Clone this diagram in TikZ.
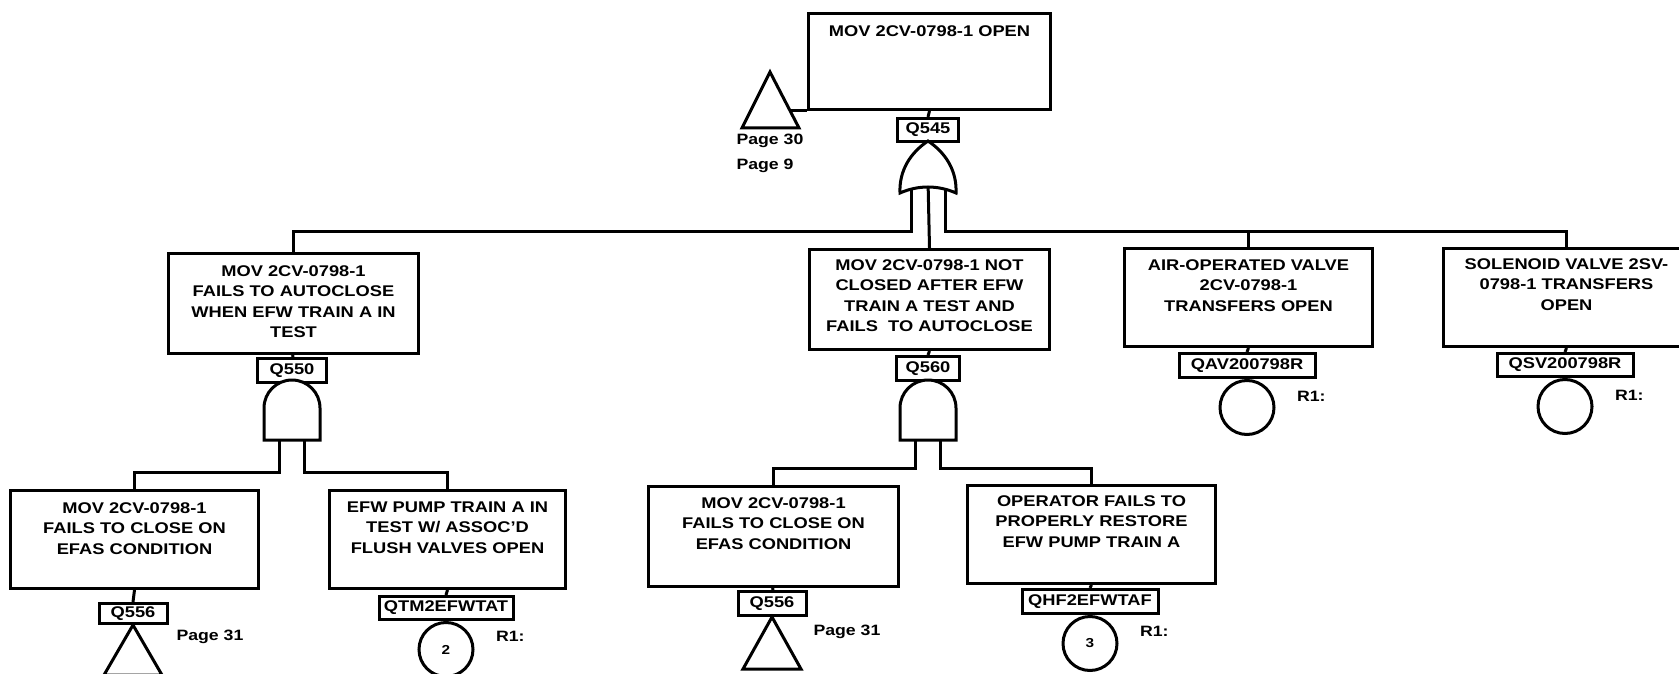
\documentclass[tikz,border=0pt]{standalone}
\usepackage{fontspec}
\setmainfont{Liberation Sans}[FakeStretch=1.18]
\begin{document}
\begin{tikzpicture}[x=1pt,y=-1pt,line width=3pt,
  box/.style={draw,rectangle,line width=3pt,inner sep=0pt,anchor=north west},
  txt/.style={font=\bfseries\fontsize{15.5}{20.5}\selectfont,align=center,inner sep=0pt,anchor=north},
  lbl/.style={draw,rectangle,line width=3pt,fill=white,font=\bfseries\fontsize{15.5}{18}\selectfont,inner sep=0pt,anchor=north},
  evt/.style={draw,circle,line width=3pt,fill=white,minimum size=54pt,inner sep=0pt,anchor=north,font=\bfseries\fontsize{13}{15}\selectfont},
  pg/.style={font=\bfseries\fontsize{15}{25}\selectfont,inner sep=0pt,align=left},
  wire/.style={line width=3pt},
  andgate/.pic={\draw[line width=3pt,fill=white] (-28,0) -- (-28,-32) .. controls (-28,-47.5) and (-15.5,-60) .. (0,-60) .. controls (15.5,-60) and (28,-47.5) .. (28,-32) -- (28,0) -- cycle;},
  orgate/.pic={\draw[line width=3pt,fill=white] (-28,0) .. controls (-10,-8) and (10,-8) .. (28,0) .. controls (29,-22) and (18,-40) .. (0,-52) .. controls (-18,-40) and (-29,-22) .. (-28,0) -- cycle;},
]
\fill[white] (0,0) rectangle (1679,674);
\useasboundingbox (0,0) rectangle (1679,674);

% ---------- top event ----------
\node[box,minimum width=242pt,minimum height=96pt] (T) at (807,12) {};
\node[txt] (Tt) at ([yshift=-12pt]T.north) {MOV 2CV-0798-1 OPEN};
\node[lbl,minimum width=61pt,minimum height=23pt] (q545) at (928,117) {Q545};
\draw[wire] (T.south) -- (q545.north);
% transfer triangle top
\coordinate (ttA) at (770,72);
\coordinate (ttB) at (742,128);
\coordinate (ttC) at (799,128);
\coordinate (ttL) at (790,110);
\draw[wire] (ttA) -- (ttB) -- (ttC) -- cycle;
\draw[wire] (T.south west) -- (T.south west -| ttL);
\node[pg,anchor=north west] (p30) at (735,133) {Page 30\\Page 9};

% ---------- second level boxes ----------
\node[box,minimum width=250pt,minimum height=100pt] (L1) at (167,252) {};
\node[txt] (L1t) at ([yshift=-12pt]L1.north) {MOV 2CV-0798-1\\FAILS TO AUTOCLOSE\\WHEN EFW TRAIN A IN\\TEST};
\node[box,minimum width=240pt,minimum height=100pt] (M1) at (808,248) {};
\node[txt] (M1t) at ([yshift=-10pt]M1.north) {MOV 2CV-0798-1 NOT\\CLOSED AFTER EFW\\TRAIN A TEST AND\\FAILS\ \ TO AUTOCLOSE};
\node[box,minimum width=248pt,minimum height=98pt] (A) at (1123,247) {};
\node[txt] (At) at ([yshift=-11pt]A.north) {AIR-OPERATED VALVE\\2CV-0798-1\\TRANSFERS OPEN};
\node[box,minimum width=246pt,minimum height=98pt] (S) at (1442,247) {};
\node[txt] (St) at ([yshift=-10pt]S.north) {SOLENOID VALVE 2SV-\\0798-1 TRANSFERS\\OPEN};

% OR gate legs
\coordinate (orL) at (911,180);
\coordinate (orM) at (928,180);
\coordinate (orR) at (945,180);
\coordinate (busL) at (911,231);
\coordinate (busR) at (945,231);
\draw[wire] (orL) -- (busL) -| (L1.north);
\draw[wire] (orM) -- (M1.north);
\draw[wire] (orR) -- (busR) -| (S.north);
\draw[wire] (A.north) -- (A.north |- busR);
\pic (g545) at (928,193) {orgate};

% ---------- left branch ----------
\node[lbl,minimum width=69pt,minimum height=24pt] (q550) at (292,357) {Q550};
\draw[wire] (L1.south) -- (q550.north);
\coordinate (a550l) at (279.5,440);
\coordinate (a550r) at (304.5,440);
\node[box,minimum width=248pt,minimum height=98pt] (BL1) at (9,489) {};
\node[txt] (BL1t) at ([yshift=-12pt]BL1.north) {MOV 2CV-0798-1\\FAILS TO CLOSE ON\\EFAS CONDITION};
\node[box,minimum width=236pt,minimum height=98pt] (BR1) at (328,489) {};
\node[txt] (BR1t) at ([yshift=-11pt]BR1.north) {EFW PUMP TRAIN A IN\\TEST W/ ASSOC'D\\FLUSH VALVES OPEN};
\draw[wire] (a550l) -- ++(0,32) -| (BL1.north);
\draw[wire] (a550r) -- ++(0,32) -| (BR1.north);
\pic (g550) at (292,440) {andgate};

\node[lbl,minimum width=68pt,minimum height=20pt] (q556a) at (133,602) {Q556};
\draw[wire] (BL1.south) -- (q556a.north);
\draw[wire] (q556a.south) -- ++(-29,50) -- ++(58,0) -- cycle;
\node[pg,anchor=west] (p31a) at (175,637) {Page 31};

\node[lbl,minimum width=134pt,minimum height=23pt] (qtm) at (446,595) {QTM2EFWTAT};
\draw[wire] (BR1.south) -- (qtm.north);
\node[evt] (e2) at (qtm.south) {2};
\node[pg,anchor=west] (r2) at ([xshift=20pt,yshift=13pt]e2.east) {R1:};

% ---------- middle branch ----------
\node[lbl,minimum width=63pt,minimum height=24pt] (q560) at (928,355) {Q560};
\draw[wire] (M1.south) -- (q560.north);
\coordinate (a560l) at (915.5,440);
\coordinate (a560r) at (940.5,440);
\node[box,minimum width=250pt,minimum height=100pt] (BM) at (647,485) {};
\node[txt] (BMt) at ([yshift=-11pt]BM.north) {MOV 2CV-0798-1\\FAILS TO CLOSE ON\\EFAS CONDITION};
\node[box,minimum width=248pt,minimum height=98pt] (BR2) at (966,484) {};
\node[txt] (BR2t) at ([yshift=-10pt]BR2.north) {OPERATOR FAILS TO\\PROPERLY RESTORE\\EFW PUMP TRAIN A};
\draw[wire] (a560l) -- ++(0,28) -| (BM.north);
\draw[wire] (a560r) -- ++(0,28) -| (BR2.north);
\pic (g560) at (928,440) {andgate};

\node[lbl,minimum width=68pt,minimum height=24pt] (q556b) at (772,590) {Q556};
\draw[wire] (BM.south) -- (q556b.north);
\draw[wire] (q556b.south) -- ++(-29,52) -- ++(58,0) -- cycle;
\node[pg,anchor=west] (p31b) at (812,632) {Page 31};

\node[lbl,minimum width=136pt,minimum height=24pt] (qhf) at (1090,588) {QHF2EFWTAF};
\draw[wire] (BR2.south) -- (qhf.north);
\node[evt] (e3) at (qhf.south) {3};
\node[pg,anchor=west] (r3) at ([xshift=20pt,yshift=12pt]e3.east) {R1:};

% ---------- right events ----------
\node[lbl,minimum width=136pt,minimum height=24pt] (qav) at (1247,352) {QAV200798R};
\draw[wire] (A.south) -- (qav.north);
\node[evt] (eA) at (qav.south) {};
\node[pg,anchor=west] (rA) at ([xshift=20pt,yshift=11pt]eA.east) {R1:};

\node[lbl,minimum width=136pt,minimum height=23pt] (qsv) at (1565,352) {QSV200798R};
\draw[wire] (S.south) -- (qsv.north);
\node[evt] (eS) at (qsv.south) {};
\node[pg,anchor=west] (rS) at ([xshift=20pt,yshift=11pt]eS.east) {R1:};
\end{tikzpicture}
\end{document}
